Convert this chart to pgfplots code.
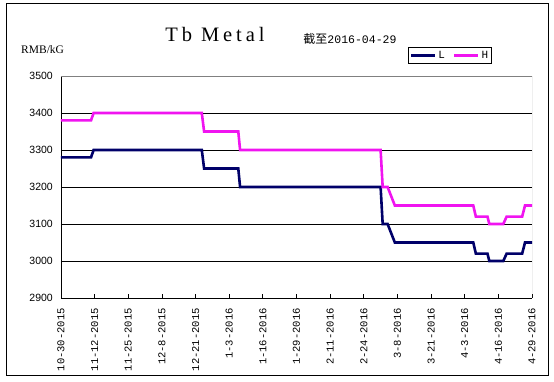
\documentclass[border=0pt]{standalone}
\usepackage{pgfplots}
\pgfplotsset{compat=1.18}
\usepackage{fontspec}
\setmainfont{Liberation Sans}
\newfontfamily\monofont{Liberation Mono}
\newfontfamily\seriffont{Liberation Serif}
\newfontfamily\titlefont[LetterSpace=19]{Liberation Serif}
\newfontfamily\cjk{Noto Sans CJK SC}
\definecolor{lnavy}{RGB}{0,0,105}
\definecolor{hmag}{RGB}{240,20,240}
\begin{document}
\begin{tikzpicture}[x=1pt,y=1pt]
\useasboundingbox (0,0) rectangle (554,382);
\draw[black, line width=1pt] (6,6) rectangle (548,378);
\node[font=\titlefont\fontsize{20.5}{24}\selectfont] at (215,348) {Tb Metal};
\node at (350,343) {{\cjk\fontsize{12}{14}\selectfont 截至}{\monofont\fontsize{11.5}{14}\selectfont 2016-04-29}};
\node[anchor=west, inner sep=0pt, font=\seriffont\fontsize{11.5}{13}\selectfont] at (21,332) {RMB/kG};
\begin{axis}[
  at={(61pt,84pt)}, anchor=south west, scale only axis,
  width=471pt, height=222pt,
  xmin=0, xmax=182, ymin=2900, ymax=3500,
  axis x line*=bottom, axis y line*=left,
  axis line style={black, line width=0.9pt},
  xtick={0,13,...,182},
  xticklabels={10-30-2015,11-12-2015,11-25-2015,12-8-2015,12-21-2015,1-3-2016,1-16-2016,1-29-2016,2-11-2016,2-24-2016,3-8-2016,3-21-2016,4-3-2016,4-16-2016,4-29-2016},
  xticklabel style={font=\monofont\fontsize{10.5}{12}\selectfont, inner sep=0pt, yshift=-10pt, rotate=90, anchor=east},
  tick align=inside, major tick length=4pt,
  xtick style={black, line width=0.8pt},
  ytick={2900,3000,3100,3200,3300,3400,3500},
  yticklabels={2900,3000,3100,3200,3300,3400,3500},
  yticklabel style={font=\fontsize{10.5}{12}\selectfont, inner sep=0pt, xshift=-8pt, anchor=east},
  ytick style={draw=none},
  legend style={at={(axis description cs:0.826,1.092)}, anchor=center, legend columns=2,
    draw=black, line width=0.8pt, font=\monofont\fontsize{11}{12}\selectfont, inner sep=1.5pt,
    /tikz/every even column/.append style={column sep=6pt}},
  legend image code/.code={\draw[#1] (0pt,0pt) -- (24pt,0pt);},
]
\pgfplotsinvokeforeach{3000,3100,3200,3300,3400}{
  \draw[black, line width=0.8pt] (axis cs:0,#1) -- (axis cs:182,#1);
}
\draw[gray, line width=0.9pt] (axis cs:0,3500) -- (axis cs:182,3500) -- (axis cs:182,2900);
\addplot[lnavy, line width=2.6pt] coordinates {
(0,3280) (11.6,3280) (12.6,3300) (54.4,3300) (55.3,3250) (68.5,3250) (69.2,3200)
(123.5,3200) (124.3,3100) (126.2,3100) (129,3050) (159.3,3050) (160.3,3020)
(164.8,3020) (165.5,3000) (170.9,3000) (172.2,3020) (178.2,3020) (179.3,3050) (182,3050)
};
\addlegendentry{L}
\addplot[hmag, line width=2.6pt] coordinates {
(0,3380) (11.6,3380) (12.6,3400) (54.4,3400) (55.3,3350) (68.5,3350) (69.2,3300)
(123.5,3300) (124.3,3200) (126.2,3200) (129,3150) (159.3,3150) (160.3,3120)
(164.8,3120) (165.5,3100) (170.9,3100) (172.2,3120) (178.2,3120) (179.3,3150) (182,3150)
};
\addlegendentry{H}
\end{axis}
\end{tikzpicture}
\end{document}
